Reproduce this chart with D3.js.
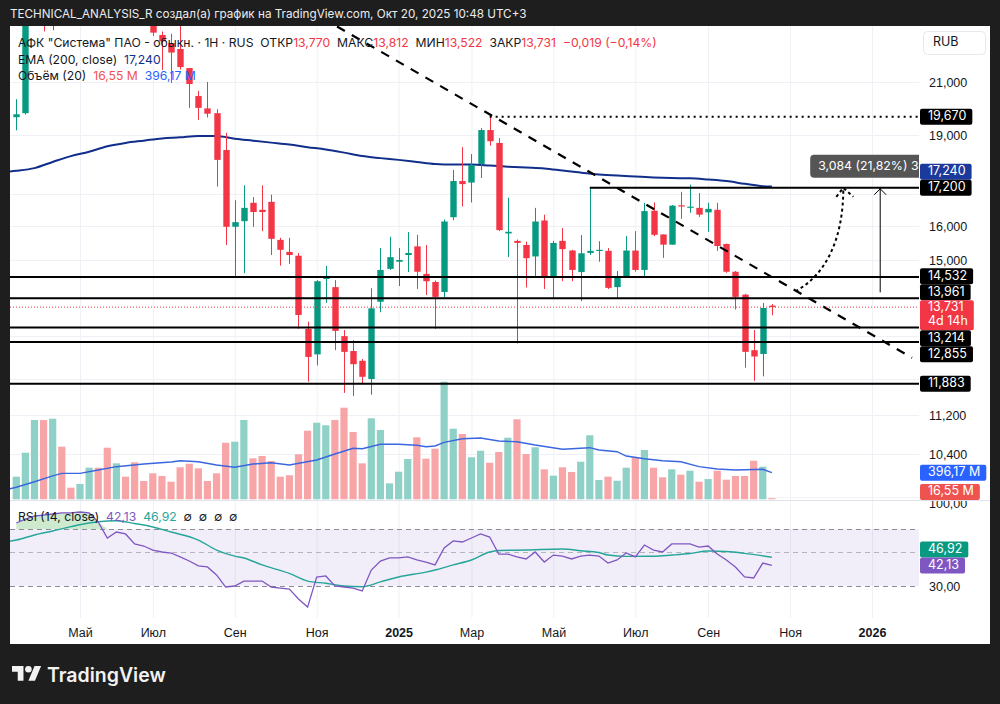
<!DOCTYPE html>
<html>
<head>
<meta charset="utf-8">
<script src="https://cdn.jsdelivr.net/npm/d3@7"></script>
<style>
  html, body { margin: 0; padding: 0; background: #1e1e1e; }
  svg { display: block; font-family: Inter, Roboto, "Noto Sans", sans-serif; }
</style>
</head>
<body>
<svg id="chart" width="1000" height="704"></svg>
<script>
// weekly candles, first one is the week of 18 Mar 2024
const firstWeek = Date.UTC(2024, 2, 18);

const opens = [19.65,19.80,24.00,25.30,24.10,25.00,24.40,24.10,24.90,25.70,
  25.00,24.00,24.60,24.20,23.90,23.70,22.95,22.60,22.35,21.56,
  20.45,19.98,19.80,18.47,15.98,16.15,16.72,16.50,16.75,15.59,
  15.24,15.13,13.18,12.56,14.48,14.26,13.00,12.64,12.41,11.99,
  13.87,14.76,14.96,15.15,15.40,14.62,14.40,14.13,16.27,17.42,
  17.37,17.99,19.18,18.72,15.78,15.56,15.44,15.11,16.17,14.51,
  15.56,15.28,14.67,15.21,15.27,15.27,14.26,14.56,15.28,14.73,
  16.47,15.75,15.45,16.64,16.57,16.56,16.42,16.50,15.47,14.68,
  14.06,12.66,12.57,13.770];
const highs = [20.33,24.20,25.60,25.90,25.40,25.80,24.80,25.20,26.00,26.10,
  25.30,24.90,24.90,24.50,24.10,23.80,23.10,23.00,23.60,21.56,
  20.65,21.00,19.95,19.08,16.80,17.28,16.90,17.28,16.98,15.65,
  15.65,15.21,13.36,14.45,14.84,14.45,13.15,12.90,12.45,14.23,
  15.35,15.68,15.35,15.82,15.74,15.44,14.44,16.20,17.79,18.57,
  18.33,19.25,19.67,18.89,16.88,15.60,15.54,16.56,16.35,15.56,
  15.94,15.30,15.73,17.20,15.55,15.35,14.70,15.70,15.85,16.72,
  16.73,15.75,16.65,17.07,17.30,17.03,16.72,16.72,15.48,14.70,
  14.08,13.15,13.84,13.812];
const lows = [19.17,19.75,23.50,23.10,23.15,24.00,23.80,23.90,24.60,24.80,
  23.80,23.70,24.00,23.60,23.50,22.90,21.48,20.96,21.50,20.00,
  19.55,19.64,17.24,15.44,14.52,14.64,15.98,15.85,15.15,14.85,
  14.90,13.18,11.93,12.30,13.84,12.66,11.68,11.61,11.88,11.64,
  13.60,14.73,14.29,14.67,14.21,14.05,13.18,13.99,16.18,16.60,
  16.73,17.52,18.62,15.85,15.09,12.82,14.25,14.51,14.21,13.97,
  14.42,14.42,13.89,15.15,14.96,14.21,13.97,14.54,14.68,14.51,
  15.70,15.07,15.45,16.22,16.41,16.28,15.83,15.27,14.65,13.67,
  12.25,11.95,12.05,13.522];
const closes = [19.76,24.00,25.30,24.10,25.00,24.40,24.10,24.90,25.70,25.00,
  24.00,24.60,24.20,23.90,23.70,23.05,22.68,22.20,21.60,20.92,
  20.00,19.78,18.13,15.98,16.12,16.56,16.43,16.43,15.62,15.30,
  15.15,13.53,12.50,14.42,14.52,13.13,12.62,12.33,12.04,13.70,
  14.73,15.09,15.01,15.21,14.68,14.42,14.00,16.14,17.42,17.32,
  17.96,19.18,18.78,15.88,15.83,15.50,15.06,16.14,14.54,15.50,
  15.32,14.73,15.20,15.27,15.30,14.24,14.56,15.28,14.73,16.46,
  15.74,15.45,16.63,16.61,16.60,16.35,16.53,15.41,14.68,14.00,
  12.62,12.51,13.71,13.731];
// volume, millions
const volumes = [337,694,1182,1182,1201,784,173,228,471,471,
  769,536,337,551,273,387,347,262,477,530,
  462,273,387,843,858,1182,611,645,571,337,
  358,671,1022,1141,1103,1182,1365,1003,536,1207,
  1033,238,411,600,924,605,754,1752,1052,973,
  626,724,545,705,918,1192,675,775,447,352,
  477,407,560,954,288,337,277,471,626,735,
  471,328,447,367,426,262,302,426,292,347,
  347,575,486,16.55];
const lastChange = "−0,019 (−0,14%)";

// EMA(200), by week index
const emaIdx = [-1,0,2,4,6,8,10,12,14,16,18,20,22,24,26,28,30,32,34,36,38,40,42,44,46,48,50,52,54,56,58,60,62,64,66,68,70,72,74,76,78,80,82,83];
const emaVals = [17.73,17.76,17.85,18.06,18.26,18.41,18.60,18.72,18.80,18.88,18.92,18.97,18.97,18.87,18.80,18.73,18.66,18.57,18.49,18.38,18.26,
  18.19,18.13,18.06,17.99,17.97,17.97,17.94,17.90,17.87,17.84,17.77,17.70,17.64,17.60,17.57,17.54,17.52,17.51,17.47,17.42,17.33,17.25,17.24];

// volume SMA(20)
const volMaIdx = [-1,0,2,4,5,7,9,11,14,17,18,20,22,24,26,28,30,33,35,37,38,40,42,44,45,46,47,49,51,53,55,57,60,63,64,66,67,69,71,73,75,77,79,82,83];
const volMaVals = [149,179,262,350,387,387,437,486,526,556,575,560,511,477,526,545,511,586,675,760,754,
  820,820,805,784,794,849,903,913,869,858,809,745,769,735,709,645,605,575,560,486,451,437,447,396.17];

// RSI(14), one value per week
const rsiVals = [76.9,81.5,85.0,86.1,87.3,88.5,88.5,89.6,88.5,78.1,
  62.2,67.4,65.7,57.0,55.2,51.7,50.0,49.4,47.1,44.7,
  41.8,41.2,36.5,29.4,30.0,32.9,32.9,32.9,29.4,28.8,
  28.2,22.4,17.6,35.3,35.9,30.0,29.4,28.8,27.1,39.4,
  44.7,46.5,46.5,47.1,45.3,44.1,42.4,53.5,59.6,58.7,
  62.2,65.7,63.0,48.8,48.8,47.1,45.9,50.0,44.1,48.2,
  47.6,45.9,47.6,48.2,47.6,43.5,45.3,49.4,47.1,56.1,
  51.7,50.0,57.0,57.0,57.0,54.3,55.2,48.8,45.3,41.2,
  35.3,34.7,43.5,42.13];
// RSI moving average
const rsiMaIdx = [-1,0,2,4,6,8,10,11,13,14,17,20,22,24,25,27,30,32,34,36,38,40,42,45,46,48,50,52,53,56,60,62,64,65,67,70,72,74,76,78,80,83];
const rsiMaVals = [59.0,60.4,64.8,68.3,72.7,76.9,79.2,79.6,76.3,74.6,67.4,60.4,51.7,47.6,46.5,42.4,37.4,32.9,31.6,30.0,29.6,
  32.4,35.3,38.2,39.4,42.4,45.3,50.0,51.3,51.7,52.6,51.1,49.7,48.2,47.4,47.5,48.2,49.1,50.9,50.4,49.2,46.92];

const priceTicks = [21, 19, 17, 16, 15, 14, 13, 12, 11.2, 10.4, 9.6];
const rsiTicks = [100, 30];
const levelLines = [14.532, 13.961, 13.214, 12.855, 11.883];
const resistance = { from: 63, price: 17.2 };
const peak = { from: 52, price: 19.67 };
const trendPts = [[32, 24.08], [98.4, 12.48]];
const curvePts = [[85.6, 14.15], [88.9, 14.59], [90.85, 15.59], [90.85, 17.2]];
const measure = { at: 94.9, from: 14.12, to: 17.2, text: "3,084 (21,82%) 3" };

const tickDates = ["2024-05-06","2024-07-01","2024-09-02","2024-11-04","2025-01-06","2025-03-03","2025-05-05","2025-07-07","2025-09-01","2025-11-03","2026-01-05"];
const tickLabels = ["Май","Июл","Сен","Ноя","2025","Мар","Май","Июл","Сен","Ноя","2026"];

const UP = "#089981", DOWN = "#f23645", INK = "#131722";
const EMA_COLOR = "#112e8a", VOLMA_COLOR = "#3a66e0", RSI_COLOR = "#7e57c2", RSIMA_COLOR = "#26a69a";
const SP = "\u00a0\u00a0";

const plotL = 10, plotR = 919, paneTop = 26, paneBot = 500, rsiTop = 501, rsiBot = 618;

const weekDate = i => new Date(firstWeek + i * 7 * 864e5);
const x = d3.scaleUtc()
  .domain([new Date("2024-05-06"), new Date("2026-01-05")])
  .range([80, 872]);
const xi = i => x(weekDate(i));
const y = d3.scaleLog().domain([10.4, 21]).range([454.4, 82]);
const yv = d3.scaleLinear().domain([0, 1000]).range([499.3, 499.3 - 1000 / 14.9]);
const yr = d3.scaleLinear().domain([30, 50, 70, 100]).range([586, 552, 529, 503]);

const dec = (v, n) => d3.format("." + n + "f")(v).replace(".", ",").replace("-", "−");

const svg = d3.select("#chart");
svg.append("rect").attr("width", 1000).attr("height", 704).attr("fill", "#1e1e1e");
svg.append("rect").attr("x", 10).attr("y", 26).attr("width", 980).attr("height", 618).attr("fill", "#fff");

svg.append("text")
  .attr("x", 10).attr("y", 18)
  .attr("fill", "#ececec").attr("font-size", 11.7)
  .text("TECHNICAL_ANALYSIS_R создал(а) график на TradingView.com, Окт 20, 2025 10:48 UTC+3");

const defs = svg.append("defs");
defs.append("clipPath").attr("id", "plotClip").append("rect")
  .attr("x", plotL).attr("y", paneTop).attr("width", plotR - plotL).attr("height", paneBot - paneTop);
defs.append("clipPath").attr("id", "rsiClip").append("rect")
  .attr("x", plotL).attr("y", rsiTop).attr("width", plotR - plotL).attr("height", rsiBot - rsiTop);
defs.append("clipPath").attr("id", "axisClip").append("rect")
  .attr("x", plotR).attr("y", paneTop).attr("width", 990 - plotR).attr("height", paneBot - paneTop);
defs.append("clipPath").attr("id", "axisClipRsi").append("rect")
  .attr("x", plotR).attr("y", rsiTop).attr("width", 990 - plotR).attr("height", rsiBot - rsiTop);

// grid
const grid = svg.append("g").attr("stroke", "#eff1f6").attr("stroke-width", 1);
grid.selectAll("line.v").data(tickDates).join("line")
  .attr("x1", d => x(new Date(d)) + 0.5).attr("x2", d => x(new Date(d)) + 0.5)
  .attr("y1", paneTop).attr("y2", rsiBot);
grid.selectAll("line.h").data(priceTicks).join("line")
  .attr("x1", plotL).attr("x2", plotR)
  .attr("y1", d => Math.round(y(d)) + 0.5).attr("y2", d => Math.round(y(d)) + 0.5)
  .attr("clip-path", "url(#plotClip)");

// pane separator
svg.append("line").attr("x1", plotL).attr("x2", 990).attr("y1", 500.5).attr("y2", 500.5)
  .attr("stroke", "#e0e3eb");

const plot = svg.append("g").attr("clip-path", "url(#plotClip)");
const idx = d3.range(opens.length);
const isUp = i => closes[i] >= opens[i];
const last = opens.length - 1;

// volume
plot.append("g").selectAll("rect").data(idx).join("rect")
  .attr("x", i => xi(i) - 3.6).attr("width", 7.2)
  .attr("y", i => yv(volumes[i])).attr("height", i => yv(0) - yv(volumes[i]))
  .attr("fill", i => isUp(i) ? "#8fd1c6" : "#f8a5a8");
plot.append("path")
  .datum(volMaIdx.map((k, j) => [k, volMaVals[j]]))
  .attr("fill", "none").attr("stroke", VOLMA_COLOR).attr("stroke-width", 1.4)
  .attr("d", d3.line().x(d => xi(d[0])).y(d => yv(d[1])));

// EMA
plot.append("path")
  .datum(emaIdx.map((k, j) => [k, emaVals[j]]))
  .attr("fill", "none").attr("stroke", EMA_COLOR).attr("stroke-width", 2)
  .attr("d", d3.line().curve(d3.curveMonotoneX).x(d => xi(d[0])).y(d => y(d[1])));

// candles
const candles = plot.append("g").selectAll("g").data(idx).join("g")
  .attr("fill", i => isUp(i) ? UP : DOWN).attr("stroke", i => isUp(i) ? UP : DOWN);
candles.append("line")
  .attr("x1", i => Math.round(xi(i)) + 0.5).attr("x2", i => Math.round(xi(i)) + 0.5)
  .attr("y1", i => y(highs[i])).attr("y2", i => y(lows[i])).attr("stroke-width", 1);
candles.append("rect")
  .attr("stroke", "none")
  .attr("x", i => Math.round(xi(i)) + 0.5 - 3.2).attr("width", 6.4)
  .attr("y", i => y(Math.max(opens[i], closes[i])))
  .attr("height", i => Math.max(1.2, y(Math.min(opens[i], closes[i])) - y(Math.max(opens[i], closes[i]))));

// drawings
const draw = plot.append("g");
levelLines.forEach(v => {
  draw.append("line").attr("x1", plotL).attr("x2", plotR)
    .attr("y1", y(v)).attr("y2", y(v)).attr("stroke", "#000").attr("stroke-width", 2);
});
draw.append("line").attr("x1", xi(resistance.from)).attr("x2", plotR)
  .attr("y1", y(resistance.price)).attr("y2", y(resistance.price))
  .attr("stroke", "#000").attr("stroke-width", 2);
draw.append("line").attr("x1", xi(peak.from)).attr("x2", plotR)
  .attr("y1", y(peak.price)).attr("y2", y(peak.price))
  .attr("stroke", "#000").attr("stroke-width", 2).attr("stroke-dasharray", "2,4");
draw.append("line")
  .attr("x1", xi(trendPts[0][0])).attr("y1", y(trendPts[0][1]))
  .attr("x2", xi(trendPts[1][0])).attr("y2", y(trendPts[1][1]))
  .attr("stroke", "#000").attr("stroke-width", 2.2).attr("stroke-dasharray", "9,8");
// current price
draw.append("line").attr("x1", plotL).attr("x2", plotR)
  .attr("y1", y(closes[last])).attr("y2", y(closes[last]))
  .attr("stroke", DOWN).attr("stroke-width", 1).attr("stroke-dasharray", "1,2");

// curved projection arrow
const cp = curvePts.map(p => [xi(p[0]), y(p[1])]);
draw.append("path")
  .attr("d", `M${cp[0]}C${cp[1]} ${cp[2]} ${cp[3]}`)
  .attr("fill", "none").attr("stroke", "#000").attr("stroke-width", 2).attr("stroke-dasharray", "3,3");
draw.append("path")
  .attr("d", `M${cp[3][0] - 7},${cp[3][1] + 9}L${cp[3][0]},${cp[3][1]}L${cp[3][0] + 10},${cp[3][1] + 9}`)
  .attr("fill", "none").attr("stroke", "#000").attr("stroke-width", 2).attr("stroke-dasharray", "3,3");

// measure arrow
const mx = xi(measure.at);
draw.append("line").attr("x1", mx).attr("x2", mx)
  .attr("y1", y(measure.from)).attr("y2", y(measure.to))
  .attr("stroke", "#000").attr("stroke-width", 1);
draw.append("path")
  .attr("d", `M${mx - 6},${y(measure.to) + 7}L${mx},${y(measure.to) + 1}L${mx + 6},${y(measure.to) + 7}`)
  .attr("fill", "none").attr("stroke", "#000").attr("stroke-width", 1);
draw.append("rect").attr("x", mx - 70).attr("y", y(measure.to) - 33).attr("width", 140).attr("height", 23)
  .attr("rx", 4).attr("fill", "#555555");
draw.append("text").attr("x", mx - 62).attr("y", y(measure.to) - 21.5)
  .attr("dominant-baseline", "middle").attr("fill", "#fff").attr("font-size", 12.3)
  .text(measure.text);

// legend
const legend = svg.append("g").attr("font-size", 12.2);
const l1 = legend.append("text").attr("x", 18).attr("y", 47);
[["АФК \"Система\" ПАО - обыкн. · 1H · RUS" + SP + "ОТКР", INK], [dec(opens[last], 3), DOWN],
 [SP + "МАКС", INK], [dec(highs[last], 3), DOWN], [SP + "МИН", INK], [dec(lows[last], 3), DOWN],
 [SP + "ЗАКР", INK], [dec(closes[last], 3), DOWN], [SP + lastChange, DOWN]]
  .forEach(p => l1.append("tspan").attr("fill", p[1]).text(p[0]));
const l2 = legend.append("text").attr("x", 18).attr("y", 64);
l2.append("tspan").attr("fill", INK).text("EMA (200, close)" + SP);
l2.append("tspan").attr("fill", EMA_COLOR).text(dec(emaVals[emaVals.length - 1], 3));
const l3 = legend.append("text").attr("x", 18).attr("y", 80);
l3.append("tspan").attr("fill", INK).text("Объём (20)" + SP);
l3.append("tspan").attr("fill", "#ef5350").text(dec(volumes[last], 2) + "\u00a0M" + SP);
l3.append("tspan").attr("fill", "#2962ff").text(dec(volMaVals[volMaVals.length - 1], 2) + "\u00a0M");

// RSI pane
const rsiG = svg.append("g").attr("clip-path", "url(#rsiClip)");
rsiG.append("rect").attr("x", plotL).attr("width", plotR - plotL)
  .attr("y", yr(70)).attr("height", yr(30) - yr(70)).attr("fill", "rgba(126,87,194,0.1)");
[70, 50, 30].forEach(v => {
  rsiG.append("line").attr("x1", plotL).attr("x2", plotR)
    .attr("y1", Math.round(yr(v)) + 0.5).attr("y2", Math.round(yr(v)) + 0.5)
    .attr("stroke", v === 50 ? "#b2b5be" : "#8a8d96").attr("stroke-dasharray", "5,4");
});
const rsiPts = rsiVals.map((v, i) => [i, v]);
rsiG.append("path").datum(rsiPts)
  .attr("fill", "rgba(76,175,80,0.28)")
  .attr("d", d3.area().x(d => xi(d[0])).y0(yr(70)).y1(d => yr(Math.max(70, d[1]))));
rsiG.append("path").datum(rsiMaIdx.map((k, j) => [k, rsiMaVals[j]]))
  .attr("fill", "none").attr("stroke", RSIMA_COLOR).attr("stroke-width", 1.4)
  .attr("d", d3.line().curve(d3.curveMonotoneX).x(d => xi(d[0])).y(d => yr(d[1])));
rsiG.append("path").datum(rsiPts)
  .attr("fill", "none").attr("stroke", RSI_COLOR).attr("stroke-width", 1.3)
  .attr("d", d3.line().x(d => xi(d[0])).y(d => yr(d[1])));

const rl = svg.append("text").attr("x", 18).attr("y", 521).attr("font-size", 12.2);
rl.append("tspan").attr("fill", INK).text("RSI (14, close)" + SP);
rl.append("tspan").attr("fill", RSI_COLOR).text(dec(rsiVals[last], 2) + SP);
rl.append("tspan").attr("fill", RSIMA_COLOR).text(dec(rsiMaVals[rsiMaVals.length - 1], 2) + SP);
rl.append("tspan").attr("fill", INK).text("∅" + SP + "∅" + SP + "∅" + SP + "∅");

// x axis
const xAxis = svg.append("g").attr("transform", `translate(0,${rsiBot})`)
  .call(d3.axisBottom(x).tickValues(tickDates.map(d => new Date(d)))
    .tickFormat((d, i) => tickLabels[i]).tickSize(0).tickPadding(10));
xAxis.select(".domain").remove();
xAxis.selectAll("text").attr("fill", INK).attr("font-size", 12.5).attr("font-family", null)
  .attr("font-weight", (d, i) => /^\d+$/.test(tickLabels[i]) ? 700 : 400);

// axis labels, pushed apart around a pivot like TradingView does
function resolve(items) {
  items.sort((a, b) => a.y - b.y);
  const p = items.findIndex(d => d.pivot);
  const top = d => d.y - d.off, bot = d => d.y - d.off + d.h;
  for (let k = p - 1; k >= 0; k--) {
    const lim = top(items[k + 1]);
    if (bot(items[k]) > lim) items[k].y = lim - items[k].h + items[k].off;
  }
  for (let k = p + 1; k < items.length; k++) {
    const lim = bot(items[k - 1]);
    if (top(items[k]) < lim) items[k].y = lim + items[k].off;
  }
  return items;
}
function drawLabels(items) {
  const g = svg.append("g").attr("font-size", 12.5);
  items.forEach(d => {
    const r = g.append("rect").attr("x", 920).attr("y", d.y - d.off).attr("height", d.h).attr("rx", 2).attr("fill", d.fill);
    const t = g.append("text").attr("x", 928).attr("y", d.y).attr("dominant-baseline", "middle")
      .attr("fill", "#fff").text(d.text);
    let w = t.node().getComputedTextLength();
    if (d.sub) {
      const s = g.append("text").attr("x", 928).attr("y", d.y + 14).attr("dominant-baseline", "middle")
        .attr("fill", "#fff").text(d.sub);
      w = Math.max(w, s.node().getComputedTextLength());
    }
    r.attr("width", w + 14);
  });
}

const lbl = (v, fill, text, extra) => Object.assign({ y: v, h: 16, off: 8, fill, text }, extra || {});
const priceLabels = resolve([
  lbl(y(peak.price), "#000", dec(peak.price, 3)),
  lbl(y(emaVals[emaVals.length - 1]), "#1c3a9c", dec(emaVals[emaVals.length - 1], 3)),
  lbl(y(resistance.price), "#000", dec(resistance.price, 3)),
  lbl(y(closes[last]), DOWN, dec(closes[last], 3), { h: 30, off: 7, sub: "4d 14h", pivot: true }),
  ...levelLines.map(v => lbl(y(v), "#000", dec(v, 3)))
]);
const volLabels = [
  lbl(yv(volMaVals[volMaVals.length - 1]), "#2962ff", dec(volMaVals[volMaVals.length - 1], 2) + "\u00a0M"),
  lbl(Math.min(yv(volumes[last]), paneBot - 8), "#ef5350", dec(volumes[last], 2) + "\u00a0M")
];
const rsiLabels = resolve([
  lbl(yr(rsiVals[last]), RSI_COLOR, dec(rsiVals[last], 2), { pivot: true }),
  lbl(yr(rsiMaVals[rsiMaVals.length - 1]), "#089981", dec(rsiMaVals[rsiMaVals.length - 1], 2))
]);
const boxes = [...priceLabels, ...volLabels, ...rsiLabels].map(d => [d.y - d.off, d.y - d.off + d.h]);
const covered = yy => boxes.some(b => yy > b[0] - 7 && yy < b[1] + 7);

// price axis (tick labels hidden where a price tag sits on top)
const yAxis = svg.append("g").attr("clip-path", "url(#axisClip)")
  .append("g").attr("transform", `translate(${plotR},0)`)
  .call(d3.axisRight(y).tickValues(priceTicks.filter(v => !covered(y(v))))
    .tickFormat(d => dec(d, 3)).tickSize(0).tickPadding(10));
yAxis.select(".domain").remove();
yAxis.selectAll("text").attr("fill", INK).attr("font-size", 12.5).attr("font-family", null);

const rAxis = svg.append("g").attr("clip-path", "url(#axisClipRsi)")
  .append("g").attr("transform", `translate(${plotR},0)`)
  .call(d3.axisRight(yr).tickValues(rsiTicks).tickFormat(d => dec(d, 2)).tickSize(0).tickPadding(10));
rAxis.select(".domain").remove();
rAxis.selectAll("text").attr("fill", INK).attr("font-size", 12.5).attr("font-family", null);

drawLabels(priceLabels);
drawLabels(volLabels);
drawLabels(rsiLabels);

// RUB box
svg.append("rect").attr("x", 923.5).attr("y", 31.5).attr("width", 62).attr("height", 23).attr("rx", 4)
  .attr("fill", "#fff").attr("stroke", "#e6e8ee");
svg.append("text").attr("x", 933).attr("y", 43).attr("dominant-baseline", "middle")
  .attr("fill", INK).attr("font-size", 12.5).text("RUB");

// footer logo
const logo = svg.append("g").attr("transform", "translate(12,662.7) scale(0.82)").attr("fill", "#f2f2f2");
logo.append("path").attr("d", "M14 22H7V11H0V4h14v18zM28 22h-8l7.5-18h8L28 22z");
logo.append("circle").attr("cx", 20).attr("cy", 8).attr("r", 4);
svg.append("text").attr("x", 47).attr("y", 682).attr("fill", "#f2f2f2")
  .attr("font-size", 19.5).attr("font-weight", 600).text("TradingView");
</script>
</body>
</html>
